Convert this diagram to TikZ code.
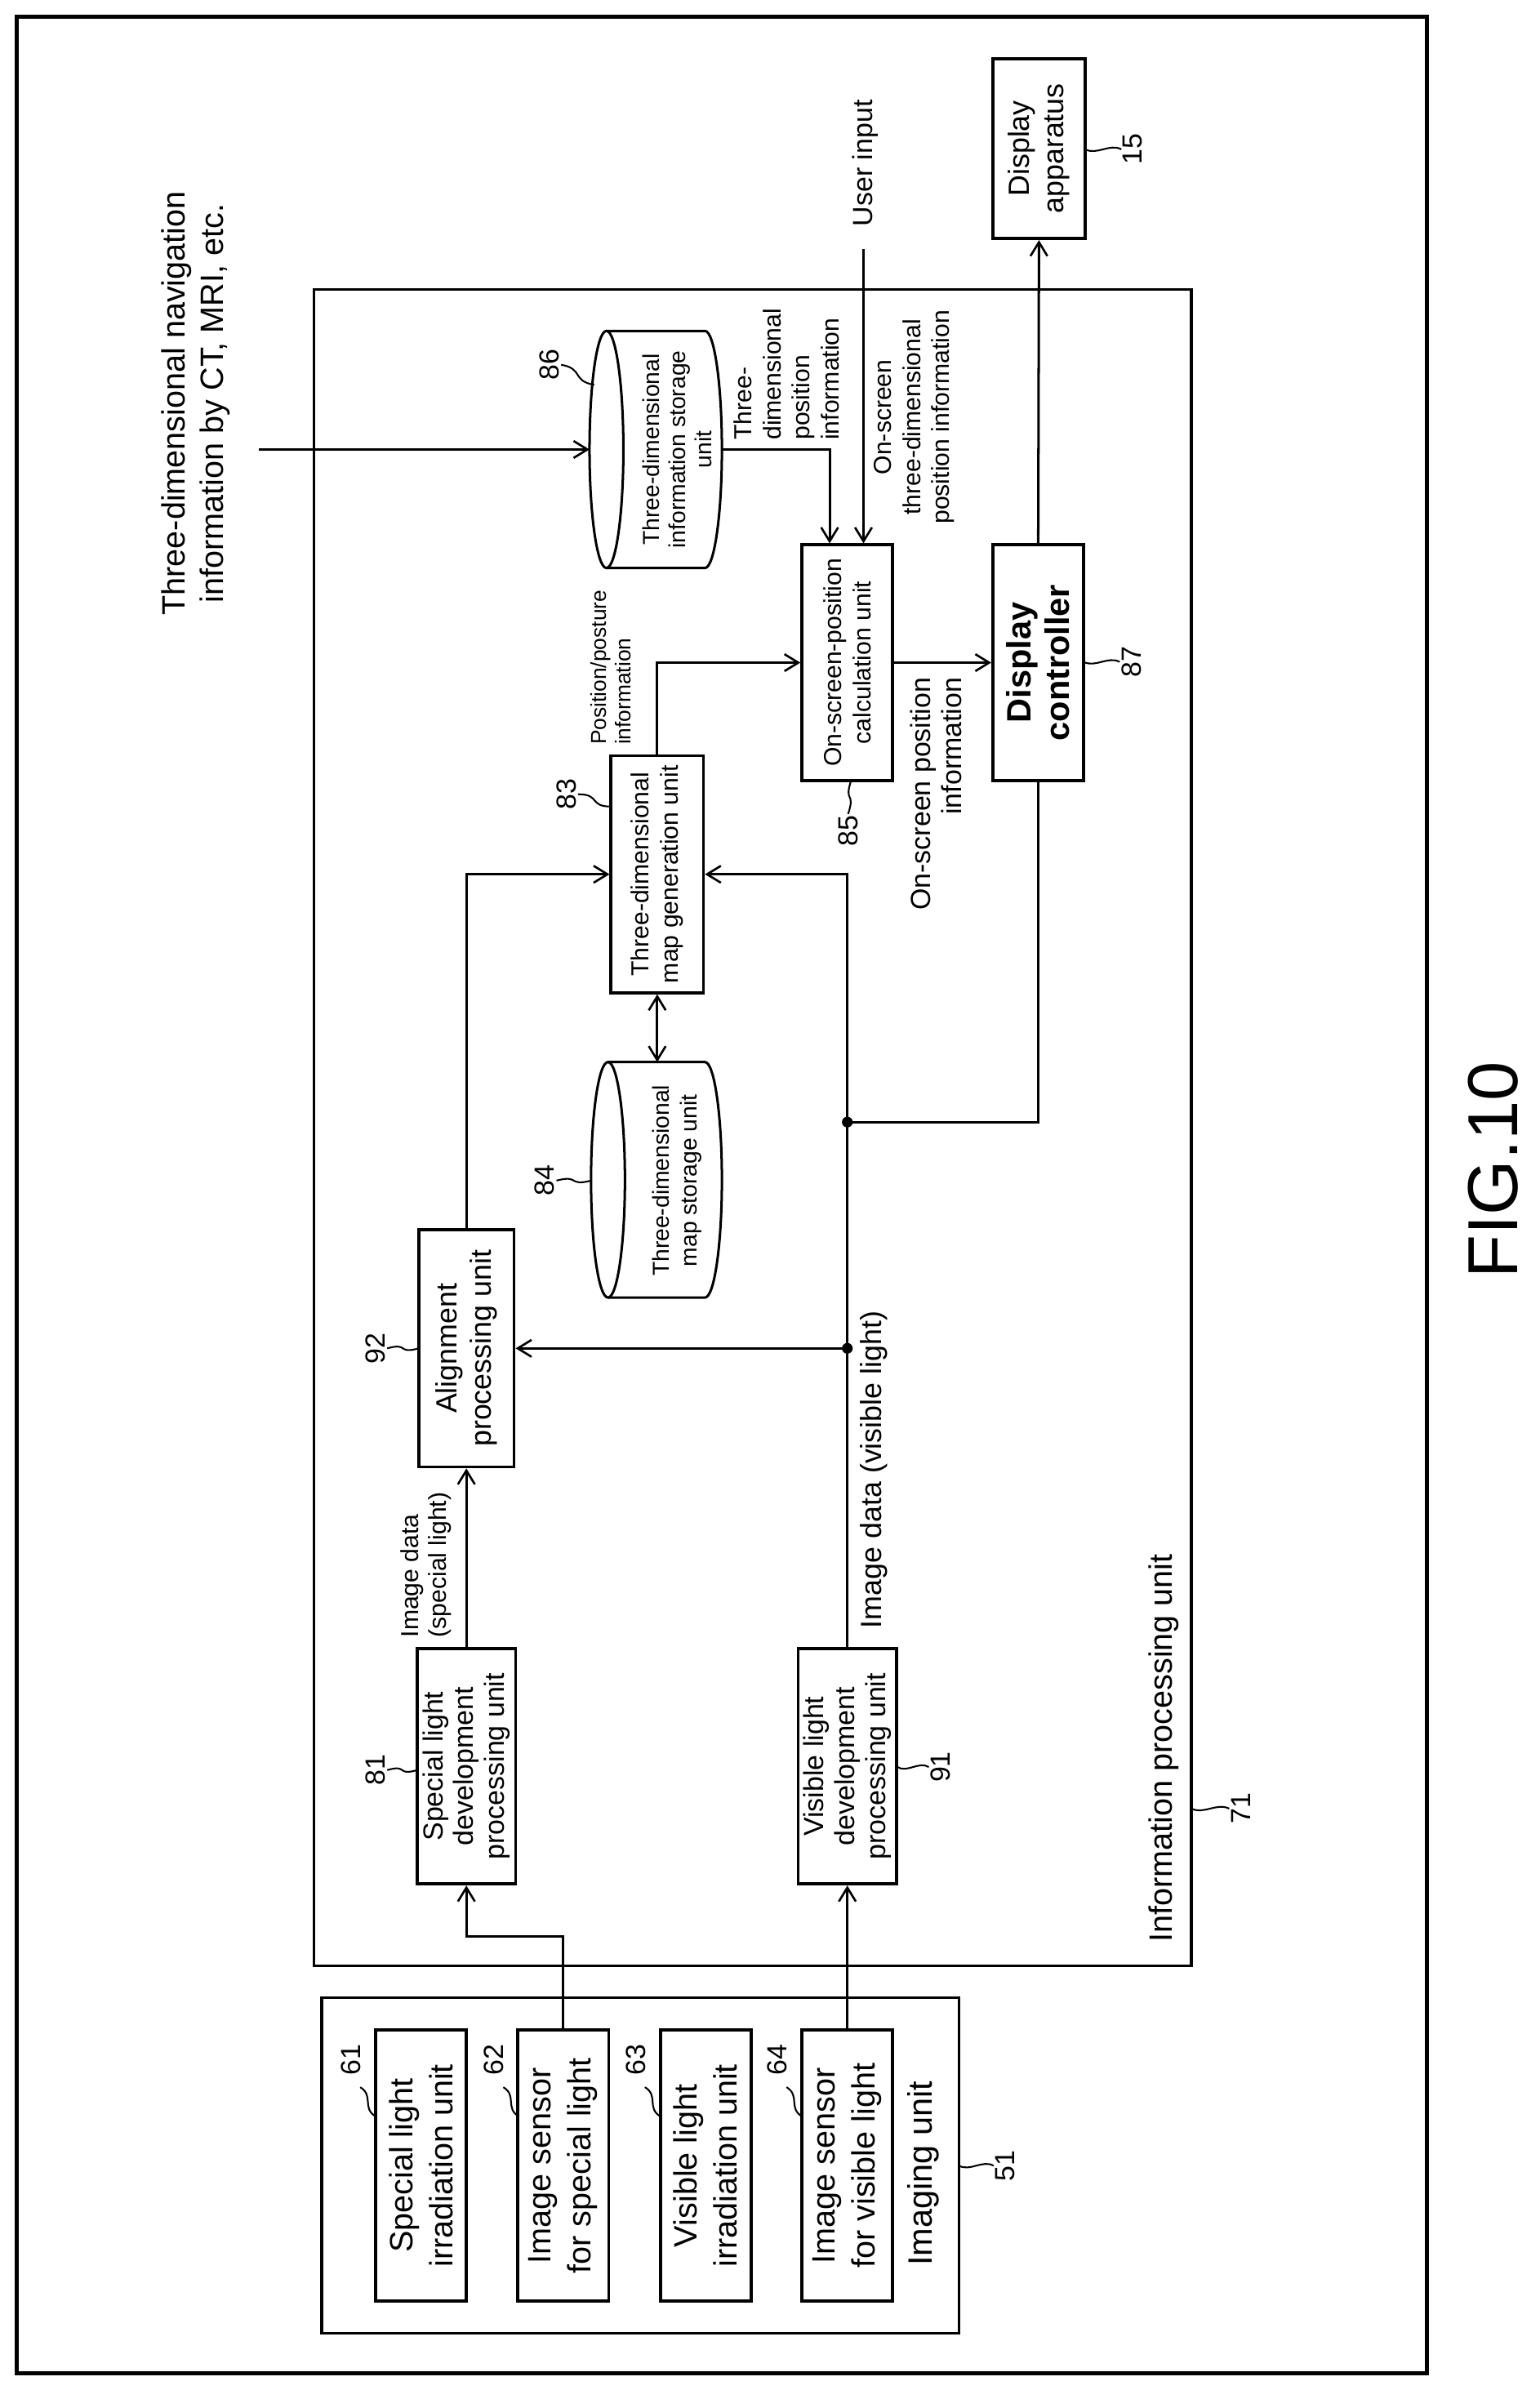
\documentclass[tikz,border=0pt]{standalone}
\usepackage{fontspec}
\setmainfont{Liberation Sans}
\usetikzlibrary{arrows.meta,calc}
\begin{document}
\begin{tikzpicture}[x=1pt,y=-1pt,
  box/.style={draw,line width=2pt,rotate=90,align=center,inner sep=0pt,fill=white},
  txt/.style={rotate=90,inner sep=0pt},
  num/.style={rotate=90,inner sep=1pt,font=\fontsize{18}{20}\selectfont},
  ln/.style={line width=1.6pt},
  arr/.style={ln,-{Straight Barb[length=9pt,width=11pt,line width=1.4pt]}},
  lead/.style={line width=1.1pt}]
\useasboundingbox (0,0) rectangle (1000,1558.6);
\newcommand{\squig}[2]{\draw[lead] (#1) .. controls ($(#1)!0.5!(#2)+(4,-4)$) and ($(#1)!0.5!(#2)+(-4,4)$) .. (#2);}
% frames
\node[draw,line width=2.5pt,minimum width=916pt,minimum height=1531pt,inner sep=0pt] (frame) at (469,776.5) {};
\node[draw,line width=1.8pt,minimum width=570pt,minimum height=1089pt,inner sep=0pt] (u71) at (489,732.5) {};
\node[draw,line width=1.8pt,minimum width=414pt,minimum height=218pt,inner sep=0pt] (u51) at (416,1407) {};
% imaging unit boxes
\tikzset{ibox/.style={box,minimum width=176pt,minimum height=59pt,font=\fontsize{21}{26}\selectfont}}
\node[ibox] (u61) at (273.5,1407) {Special light\\irradiation unit};
\node[ibox] (u62) at (366,1407) {Image sensor\\for special light};
\node[ibox] (u63) at (458.5,1407) {Visible light\\irradiation unit};
\node[ibox] (u64) at (550.5,1407) {Image sensor\\for visible light};
\node[txt,font=\fontsize{22}{26}\selectfont] (t51) at (600,1412) {Imaging unit};
% processing boxes
\node[box,minimum width=153pt,minimum height=64pt,font=\fontsize{18}{20}\selectfont] (u81) at (303,1147.5) {Special light\\development\\processing unit};
\node[box,minimum width=153pt,minimum height=64pt,font=\fontsize{18}{20}\selectfont] (u91) at (550.5,1147.5) {Visible light\\development\\processing unit};
\node[box,minimum width=154pt,minimum height=62pt,font=\fontsize{19}{22}\selectfont] (u92) at (303,876) {Alignment\\processing unit};
\node[box,minimum width=154pt,minimum height=60pt,font=\fontsize{16}{19}\selectfont] (u83) at (427,568) {Three-dimensional\\map generation unit};
\node[box,minimum width=153pt,minimum height=59pt,font=\fontsize{16}{19}\selectfont] (u85) at (550.5,430.5) {On-screen-position\\calculation unit};
\node[box,minimum width=153pt,minimum height=59pt,font=\bfseries\fontsize{22}{25}\selectfont] (u87) at (674.5,430.5) {Display\\controller};
\node[box,minimum width=117pt,minimum height=60pt,font=\fontsize{19}{22}\selectfont] (u15) at (675,96.5) {Display\\apparatus};
% cylinders
\def\cyl#1#2#3#4{% xl xr yt yb
  \fill[white] (#1+11,#3) -- (#2-11,#3) arc[start angle=-90,end angle=90,x radius=11,y radius={(#4-#3)/2}] -- (#1+11,#4) -- cycle;
  \draw[line width=1.6pt] (#1+11,#3) -- (#2-11,#3) arc[start angle=-90,end angle=90,x radius=11,y radius={(#4-#3)/2}] -- (#1+11,#4);
  \draw[line width=1.6pt] (#1+11,{(#3+#4)/2}) ellipse[x radius=11,y radius={(#4-#3)/2}];}
\cyl{383}{469}{215}{369}
\cyl{384}{469}{690}{843}
\node[txt,align=center,font=\fontsize{15}{17}\selectfont] (u86) at (440,292) {Three-dimensional\\information storage\\unit};
\node[txt,align=center,font=\fontsize{15}{18}\selectfont] (u84) at (440,767) {Three-dimensional\\map storage unit};
\coordinate (c86l) at (383,292);
\coordinate (c86r) at (469,292);
\coordinate (c84t) at (427,690);
% free texts
\node[txt,align=center,font=\fontsize{21}{25}\selectfont] (nav) at (127,262) {Three-dimensional navigation\\information by CT, MRI, etc.};
\node[txt,font=\fontsize{18}{20}\selectfont] (tui) at (562,106) {User input};
\node[txt,anchor=west,align=left,font=\fontsize{16}{19}\selectfont] (t3d) at (511,286) {Three-\\dimensional\\position\\information};
\node[txt,align=center,font=\fontsize{16}{19}\selectfont] (tos3) at (594,271) {On-screen\\three-dimensional\\position information};
\node[txt,anchor=west,align=left,font=\fontsize{14}{16}\selectfont] (tpp) at (397,484) {Position/posture\\information};
\node[txt,anchor=east,align=right,font=\fontsize{18}{20}\selectfont] (tosp) at (608,440) {On-screen position\\information};
\node[txt,anchor=west,align=left,font=\fontsize{16}{18}\selectfont] (tids) at (277,1064) {Image data\\(special light)};
\node[txt,anchor=west,font=\fontsize{19}{22}\selectfont] (tidv) at (568,1058) {Image data (visible light)};
\node[txt,anchor=west,font=\fontsize{21}{24}\selectfont] (tipu) at (756,1262) {Information processing unit};
\node[txt,font=\fontsize{46}{52}\selectfont] (fig) at (970,760) {FIG.10};
% connectors
\coordinate (navs) at (168,292);
\coordinate (uis) at (561,162);
\coordinate (j1) at (550.5,729);
\coordinate (j2) at (550.5,876);
\draw[arr] (navs) -- (c86l);
\draw[arr] (c86r) -| ([xshift=-11.5pt]u85.east);
\draw[arr] (uis) -- (uis |- u85.east);
\draw[arr] (u83.east) |- (u85.north);
\draw[arr] (u85.south) -- (u87.north);
\draw[arr] (u87.east) -- (u15.west);
\draw[ln] (u87.west) |- (j1);
\draw[arr] (u91.east) |- (u83.south);
\draw[arr] (j2) -- (u92.south);
\fill (j1) circle (3.5pt);
\fill (j2) circle (3.5pt);
\draw[arr] (u81.east) -- (u92.west);
\draw[arr] (u92.east) |- (u83.north);
\draw[ln,{Straight Barb[length=9pt,width=11pt,line width=1.4pt]}-{Straight Barb[length=9pt,width=11pt,line width=1.4pt]}] (u83.west) -- (c84t);
\draw[arr] (u62.east) -- ++(0,-60) -| (u81.west);
\draw[arr] (u64.east) -- (u91.west);
% reference numerals
\node[num] (n61) at (228,1338) {61}; \coordinate (m61) at (234,1356); \squig{m61}{244,1375}
\node[num] (n62) at (321,1338) {62}; \coordinate (m62) at (327,1356); \squig{m62}{337,1375}
\node[num] (n63) at (413,1338) {63}; \coordinate (m63) at (419,1356); \squig{m63}{429,1375}
\node[num] (n64) at (505,1338) {64}; \coordinate (m64) at (511,1356); \squig{m64}{521,1375}
\node[num] (n81) at (244,1150) {81}; \squig{n81.south}{271,1150}
\node[num] (n92) at (244,876) {92}; \squig{n92.south}{272,876}
\node[num] (n91) at (611,1148) {91}; \squig{n91.north}{583,1148}
\node[num] (n84) at (354,767) {84}; \squig{n84.south}{384,767}
\node[num] (n83) at (368,516) {83}; \squig{n83.south}{397,524}
\node[num] (n86) at (357,237) {86}; \squig{n86.south}{386,250}
\node[num] (n85) at (551,540) {85}; \squig{n85.east}{553,507}
\node[num] (n87) at (735,430) {87}; \squig{n87.north}{704,430}
\node[num] (n15) at (736,97) {15}; \squig{n15.north}{705,97}
\node[num] (n71) at (806,1175) {71}; \squig{n71.north}{774,1175}
\node[num] (n51) at (653,1407) {51}; \squig{n51.north}{623,1407}
\end{tikzpicture}
\end{document}
